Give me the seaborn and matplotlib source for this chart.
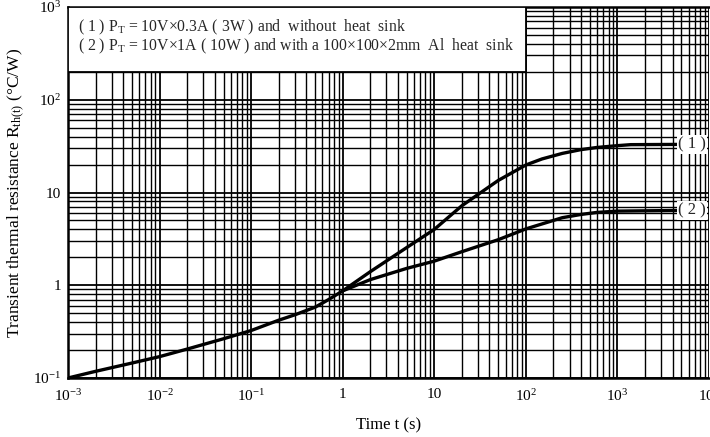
import pandas as pd
import matplotlib
matplotlib.use("Agg")
from matplotlib import pyplot as plt
from matplotlib.patches import Rectangle
from matplotlib.ticker import LogLocator, NullFormatter, FixedLocator
import seaborn as sns

# curve (1): 3W, no heat sink
t1 = [0.001, 0.002, 0.005, 0.01, 0.02, 0.05, 0.1, 0.2, 0.3, 0.5, 0.7, 1.0, 2.0, 5.0, 10.0, 20.0, 50.0,
      100.0, 150.0, 250.0, 400.0, 600.0, 1000.0, 1400.0, 4500.0]
r1 = [0.100, 0.118, 0.145, 0.170, 0.205, 0.265, 0.325, 0.42, 0.48, 0.58, 0.70, 0.87, 1.40, 2.55, 4.0, 7.2, 13.5,
      19.8, 23.0, 26.4, 29.0, 30.6, 32.0, 32.8, 33.0]
# curve (2): 10W, 100x100x2mm Al heat sink
t2 = [1.0, 2.0, 5.0, 10.0, 20.0, 50.0, 100.0, 250.0, 400.0, 600.0, 1000.0, 4500.0]
r2 = [0.87, 1.15, 1.52, 1.82, 2.3, 3.1, 4.05, 5.35, 5.8, 6.1, 6.3, 6.4]

x_ticks = [1e-3, 1e-2, 1e-1, 1, 10, 1e2, 1e3, 1e4]
x_labels = [r"$\mathregular{10^{-3}}$", r"$\mathregular{10^{-2}}$", r"$\mathregular{10^{-1}}$", "1", "10",
            r"$\mathregular{10^{2}}$", r"$\mathregular{10^{3}}$", r"$\mathregular{10^{4}}$"]
y_ticks = [1e-1, 1, 10, 1e2, 1e3]
y_labels = [r"$\mathregular{10^{-1}}$", "1", "10", r"$\mathregular{10^{2}}$", r"$\mathregular{10^{3}}$"]

legend_lines = [
    r"( 1 ) P$_\mathregular{T}$ = 10V$\times$0.3A ( 3W ) and  without  heat  sink",
    r"( 2 ) P$_\mathregular{T}$ = 10V$\times$1A ( 10W ) and with a 100$\times$100$\times$2mm  Al  heat  sink",
]

df = pd.concat([
    pd.DataFrame({"t": t1, "R": r1, "curve": "(1)"}),
    pd.DataFrame({"t": t2, "R": r2, "curve": "(2)"}),
])

sns.set_theme(style="white")
plt.rcParams["font.family"] = ["Liberation Serif", "DejaVu Serif"]
plt.rcParams["mathtext.fontset"] = "custom"
plt.rcParams["mathtext.rm"] = "Liberation Serif"
plt.rcParams["mathtext.it"] = "Liberation Serif:italic"

fig = plt.figure(figsize=(7.1, 4.37), dpi=100)
ax = fig.add_axes([68 / 710, 1 - 378 / 437, 641 / 710, 371 / 437])

ax.set_xscale("log")
ax.set_yscale("log")
ax.set_xlim(1e-3, 1e4)
ax.set_ylim(1e-1, 1e3)

ax.xaxis.set_minor_locator(LogLocator(base=10, subs=range(2, 10), numticks=20))
ax.yaxis.set_minor_locator(LogLocator(base=10, subs=range(2, 10), numticks=20))
ax.xaxis.set_minor_formatter(NullFormatter())
ax.yaxis.set_minor_formatter(NullFormatter())
ax.xaxis.set_major_locator(FixedLocator(x_ticks))
ax.yaxis.set_major_locator(FixedLocator(y_ticks))
ax.set_xticklabels(x_labels)
ax.set_yticklabels(y_labels)
ax.tick_params(which="both", length=0, labelsize=11, colors="black")
ax.tick_params(axis="x", pad=7)
ax.tick_params(axis="y", pad=5)

ax.grid(which="major", color="black", linewidth=1.3)
ax.grid(which="minor", color="black", linewidth=1.0)
ax.set_axisbelow(True)

for side in ["left", "bottom", "top"]:
    ax.spines[side].set_color("black")
    ax.spines[side].set_linewidth(1.8)
ax.spines["right"].set_visible(False)

sns.lineplot(data=df, x="t", y="R", hue="curve", palette=["black", "black"],
             linewidth=2.4, legend=False, ax=ax, zorder=5)

# white legend box in the upper left
ax.add_patch(Rectangle((1e-3, 200), 100 - 1e-3, 800, facecolor="white",
                       edgecolor="black", linewidth=1.3, zorder=4))
ax.text(1.3e-3, 600, legend_lines[0], fontsize=11.3, va="center", ha="left", zorder=6)
ax.text(1.3e-3, 375, legend_lines[1], fontsize=11.3, va="center", ha="left", zorder=6)

# curve labels at right
for lab, yv in [("( 1 )", r1[-1]), ("( 2 )", r2[-1])]:
    ax.text(6500, yv, lab, fontsize=12, ha="center", va="center", zorder=6,
            bbox=dict(facecolor="white", edgecolor="none", pad=1.0))

ax.set_xlabel("Time t (s)", fontsize=12, color="black", labelpad=10)
ax.set_ylabel(r"Transient thermal resistance R$_\mathregular{th(t)}$ (°C/W)", fontsize=12.5,
              color="black", labelpad=4)

fig.savefig("out.png", dpi=100)
plt.close(fig)
